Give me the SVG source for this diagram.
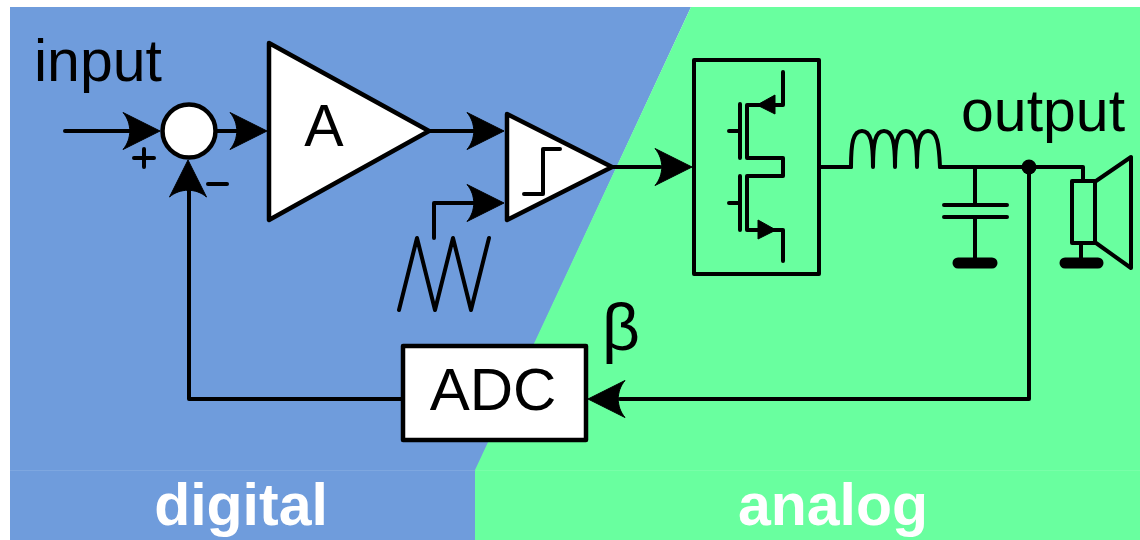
<svg xmlns="http://www.w3.org/2000/svg" width="1140" height="540" viewBox="0 0 1140 540">
<style>
.s{fill:none;stroke:#000;stroke-width:4;stroke-linecap:round;stroke-linejoin:round}
.b{fill:#fff;stroke:#000;stroke-width:4.500;stroke-linejoin:round}
.t{font-family:"Liberation Sans",Arial,sans-serif;fill:#000}
.w{font-family:"Liberation Sans",Arial,sans-serif;font-weight:700;fill:#fff;font-size:59px;text-anchor:middle}
.h{fill:#000;stroke:#000;stroke-width:1;stroke-linejoin:round}
.g{stroke:#000;stroke-width:11;stroke-linecap:round}
</style>
<defs>
<path id="ah" class="h" d="M-1 0 L-38 -18.500 C-29 -8 -29 8 -38 18.500 Z"/>
</defs>
<rect width="1140" height="540" fill="#fff"/>
<g id="background">
<polygon points="10,7 691,7 476,470 476,540 10,540" fill="#6f9cdc"/>
<polygon points="691,7 1140,7 1140,540 475,540 475,470" fill="#69ff9f"/>
<line x1="10" y1="470.500" x2="475" y2="470.500" stroke="#7ea7e0" stroke-width="1"/>
<line x1="476" y1="470.500" x2="1140" y2="470.500" stroke="#78ffa8" stroke-width="1"/>
</g>
<g id="connectors">
<path class="s" d="M65 131H130"/>
<path class="s" d="M216 131H240"/>
<path class="s" d="M430 131H480"/>
<path class="s" d="M434 238V203H480"/>
<path class="s" d="M612 167H660"/>
<path class="s" d="M821 167H851"/>
<path class="s" d="M940 167H1083V181"/>
<path class="s" d="M1029 167V399H620"/>
<path class="s" d="M402 399H189V190"/>
<path class="s" d="M975 167V205M975 217V262"/>
<path class="s" d="M1081 243V262"/>
<use href="#ah" x="161" y="131"/>
<use href="#ah" x="268" y="131"/>
<use href="#ah" x="505" y="131"/>
<use href="#ah" x="505" y="203"/>
<use href="#ah" x="693" y="167"/>
<use href="#ah" transform="translate(188 159) rotate(-90)"/>
<use href="#ah" transform="translate(587 399) rotate(180)"/>
<circle cx="1029" cy="167" r="7.500" fill="#000"/>
</g>
<g id="sum"><circle cx="189" cy="131" r="26.500" class="b"/></g>
<g id="amp"><polygon class="b" points="269,43 429,131 269,220"/><text class="t" x="324" y="146" font-size="59" text-anchor="middle">A</text></g>
<g id="comparator"><polygon class="b" points="507,114 612,167 507,220"/><path class="s" d="M524 194H543V149H560"/></g>
<g id="sawtooth"><path class="s" d="M399 310L417 238L435 310L453 238L471 310L489 238"/></g>
<g id="bridge">
<rect class="s" x="694" y="60" width="125" height="214"/>
<path class="s" d="M740 104V158M740 176V230M729 131H740M729 203H740"/>
<path class="s" d="M747 158V105H783V72M747 158H783V176H747V230H783V261"/>
<path class="h" d="M757 105L775 95V114Z"/>
<path class="h" d="M776 230L758 220V239Z"/>
</g>
<g id="inductor"><path class="s" d="M851 167C851 143 853 131 862 131C871 131 873 143 873 167C873 143 875 131 884 131C893 131 895 143 895 167C895 143 897 131 906 131C915 131 917 143 917 167C917 143 919 131 928 131C937 131 939 143 940 167"/></g>
<g id="capacitor"><path class="s" d="M944 205H1007M944 217H1007"/><path class="g" d="M958 263H992"/></g>
<g id="speaker">
<rect class="s" x="1072" y="181" width="23" height="62"/>
<path class="s" d="M1096 181L1131 157V268L1096 243"/>
<path class="g" d="M1065 263H1098"/>
</g>
<g id="adc"><rect class="b" x="403" y="346" width="183" height="94"/><text class="t" x="493" y="410" font-size="60" text-anchor="middle">ADC</text></g>
<g id="labels">
<text class="t" x="34" y="81" font-size="59">input</text>
<text class="t" x="961" y="131" font-size="59">output</text>
<text class="t" x="602" y="350" font-size="66">β</text>
<path class="s" d="M144 149V167M134 158H154" stroke-width="3"/>
<path class="s" d="M208 184H227" stroke-width="3"/>
<text class="w" x="241" y="525">digital</text>
<text class="w" x="833" y="525">analog</text>
</g>
</svg>
